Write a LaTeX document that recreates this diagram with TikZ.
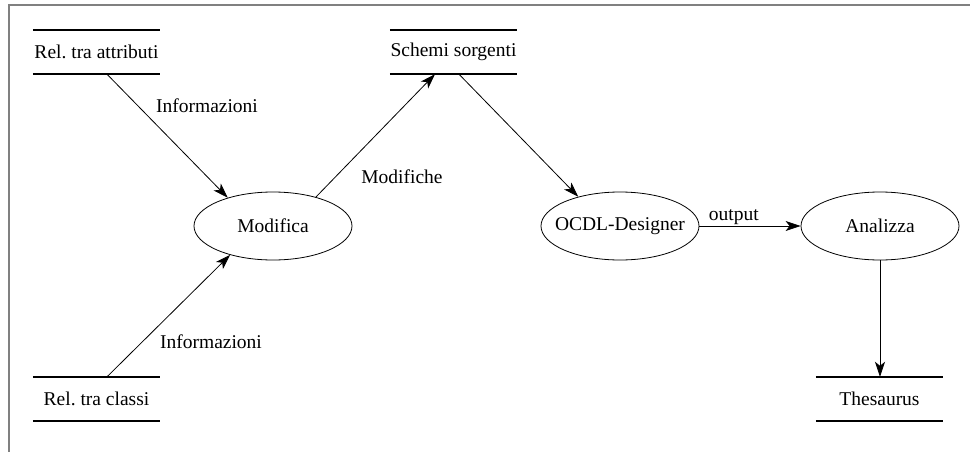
\documentclass[tikz,border=0pt]{standalone}
\usepackage{fontspec}
\setmainfont{Liberation Serif}
\newfontfamily\diafont{Liberation Serif}
\usetikzlibrary{arrows.meta,shapes.geometric}
\definecolor{framegray}{HTML}{808080}
\begin{document}
\frenchspacing
\begin{tikzpicture}[x=1pt,y=-1pt,
  every node/.style={font=\diafont\fontsize{19.5}{23}\selectfont},
  store/.style={minimum width=127pt, minimum height=44pt, inner sep=0pt},
  storeline/.style={line width=1.8pt},
  process/.style={ellipse, draw, line width=0.8pt, minimum width=158pt,
                  minimum height=68pt, inner sep=0pt},
  flow/.style={line width=0.8pt, -{Stealth[length=15pt,width=10pt,inset=4pt]}},
  lbl/.style={inner sep=1pt}]
\useasboundingbox (0,0) rectangle (970,452);

% frame (only the top and left edges are visible)
\draw[framegray, line width=2pt] (8.5,452) -- (8.5,5.5) -- (970,5.5);

% data stores
\node[store] (rta) at (96.5,52)  {Rel. tra attributi};
\node[store] (rtc) at (96.5,399) {Rel. tra classi};
\node[store] (ss)  at (453.5,52) {Schemi sorgenti};
\node[store] (th)  at (879.5,399) {Thesaurus};
\foreach \s in {rta,rtc,ss,th}
  \draw[storeline] (\s.north west) -- (\s.north east)
                   (\s.south west) -- (\s.south east);

% processes (text boxed at zero width so the ellipse keeps its set size)
\node[process] (mod)  at (273,226) {\makebox[0pt]{Modifica}};
\node[process] (ocdl) at (620,226) {\makebox[0pt]{OCDL-Designer}};
\node[process] (ana)  at (880,226) {\makebox[0pt]{Analizza}};

% flows
\draw[flow] ([xshift=10.5pt]rta.south) -- (mod.148);
\draw[flow] ([xshift=10.5pt]rtc.north) -- (mod.214);
\draw[flow] (mod.34) -- ([xshift=-18.5pt]ss.south);
\draw[flow] ([xshift=5.5pt]ss.south) -- (ocdl.145);
\draw[flow] (ocdl.east) -- node[lbl, above, pos=0.34] (lout) {output} (ana.west);
\draw[flow] (ana.south) -- (ana.south |- th.north);

% flow labels
\node[lbl] (linf1) at (207,106) {Informazioni};
\node[lbl] (lmodf) at (402,177) {Modifiche};
\node[lbl] (linf2) at (211,342) {Informazioni};
\end{tikzpicture}
\end{document}
